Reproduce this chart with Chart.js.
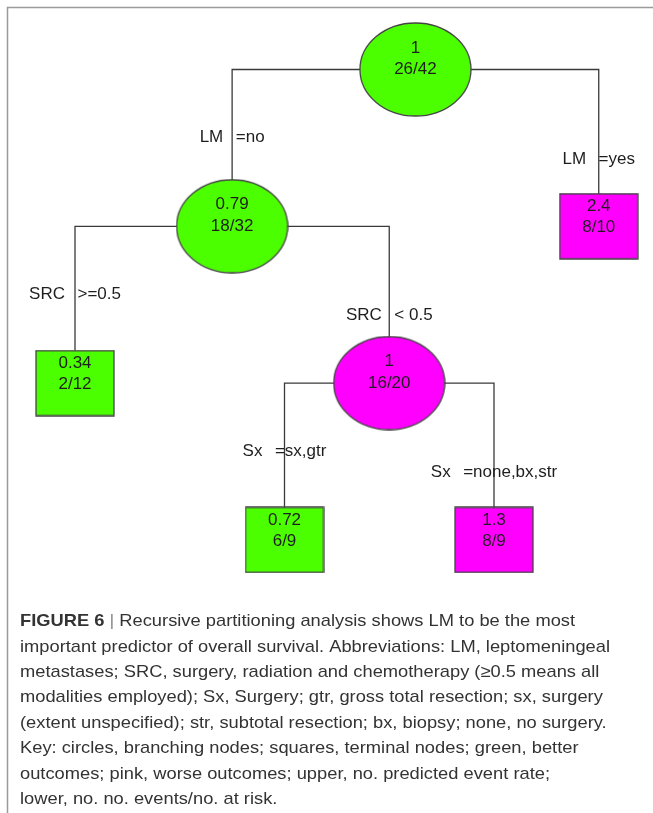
<!DOCTYPE html>
<html><head><meta charset="utf-8">
<script src="https://cdn.jsdelivr.net/npm/chart.js@4.4.1/dist/chart.umd.min.js"></script>
<style>html,body{margin:0;padding:0;background:#fff;overflow:hidden}canvas{display:block}</style>
</head><body>
<canvas id="c" width="653" height="813"></canvas>
<script>
// ---------- data ----------
const nodeRate    = ['1', '0.79', '2.4', '0.34', '1', '0.72', '1.3'];
const nodeEvents  = [26, 18, 8, 2, 16, 6, 8];
const nodeAtRisk  = [42, 32, 10, 12, 20, 9, 9];
const nodeParent  = [null, 0, 0, 1, 1, 4, 4];
const splitVar    = [null, 'LM', 'LM', 'SRC', 'SRC', 'Sx', 'Sx'];
const splitCond   = [null, '=no', '=yes', '>=0.5', '< 0.5', '=sx,gtr', '=none,bx,str'];
const nodeOutcome = ['better', 'better', 'worse', 'better', 'worse', 'better', 'worse'];
const captionTitle = 'FIGURE 6';
const captionLines = [
  'Recursive partitioning analysis shows LM to be the most',
  'important predictor of overall survival. Abbreviations: LM, leptomeningeal',
  'metastases; SRC, surgery, radiation and chemotherapy (\u22650.5 means all',
  'modalities employed); Sx, Surgery; gtr, gross total resection; sx, surgery',
  '(extent unspecified); str, subtotal resection; bx, biopsy; none, no surgery.',
  'Key: circles, branching nodes; squares, terminal nodes; green, better',
  'outcomes; pink, worse outcomes; upper, no. predicted event rate;',
  'lower, no. no. events/no. at risk.'
];

// ---------- layout (not data) ----------
const LAYOUT = {
  leafOrder: [3, 5, 6, 2], leafSlots: [0, 2, 4, 5],
  x0: 75, slotW: 104.75, y0: 69.5, levelH: 156.8,
  ellRx: 55.5, ellRy: 46.5, boxW: 78, boxH: 65
};
const COLORS = { better: '#4cff00', worse: '#ff00ff', edge: '#3a3a3a', text: '#1e1e1e' };
const FONT = '"Liberation Sans", Arial, Helvetica, sans-serif';

const N = nodeRate.length;
const children = Array.from({length: N}, () => []);
nodeParent.forEach((p, i) => { if (p !== null) children[p].push(i); });
const depth = nodeParent.map((p, i) => { let d = 0, q = p; while (q !== null) { d++; q = nodeParent[q]; } return d; });
const nx = new Array(N), ny = new Array(N);
function placeX(i) {
  if (children[i].length === 0) {
    nx[i] = LAYOUT.x0 + LAYOUT.leafSlots[LAYOUT.leafOrder.indexOf(i)] * LAYOUT.slotW;
  } else {
    children[i].forEach(placeX);
    nx[i] = children[i].reduce((s, c) => s + nx[c], 0) / children[i].length;
  }
}
placeX(0);
for (let i = 0; i < N; i++) ny[i] = LAYOUT.y0 + depth[i] * LAYOUT.levelH;

function makeShape(isLeaf, color) {
  const cv = document.createElement('canvas');
  const w = isLeaf ? LAYOUT.boxW + 2 : Math.ceil(LAYOUT.ellRx * 2 + 2);
  const h = isLeaf ? LAYOUT.boxH + 2 : Math.ceil(LAYOUT.ellRy * 2 + 2);
  cv.width = w; cv.height = h;
  const g = cv.getContext('2d');
  g.fillStyle = color; g.strokeStyle = '#444'; g.lineWidth = 1.3;
  g.beginPath();
  if (isLeaf) g.rect(1, 1, LAYOUT.boxW, LAYOUT.boxH);
  else g.ellipse(w / 2, h / 2, LAYOUT.ellRx, LAYOUT.ellRy, 0, 0, Math.PI * 2);
  g.fill(); g.stroke();
  return cv;
}
const shapes = {};
['better', 'worse'].forEach(o => {
  shapes[o + 'leaf'] = makeShape(true, COLORS[o]);
  shapes[o + 'node'] = makeShape(false, COLORS[o]);
});

// edge datasets (one polyline per internal node)
const edgeSets = [];
for (let i = 0; i < N; i++) {
  if (children[i].length === 2) {
    const [l, r] = children[i];
    edgeSets.push({
      type: 'scatter', showLine: true, order: 2,
      data: [{x: nx[l], y: ny[l]}, {x: nx[l], y: ny[i]}, {x: nx[r], y: ny[i]}, {x: nx[r], y: ny[r]}],
      borderColor: COLORS.edge, borderWidth: 1.3, pointRadius: 0, tension: 0
    });
  }
}
const nodeSet = {
  type: 'scatter', order: 0,
  data: nodeRate.map((v, i) => ({x: nx[i], y: ny[i]})),
  pointStyle: nodeRate.map((v, i) => shapes[nodeOutcome[i] + (children[i].length ? 'node' : 'leaf')]),
  pointRadius: 5, pointHoverRadius: 5
};

const textPlugin = {
  id: 'treeText',
  afterDraw(chart) {
    const ctx = chart.ctx, xs = chart.scales.x, ys = chart.scales.y;
    ctx.save();
    ctx.fillStyle = COLORS.text;
    ctx.textBaseline = 'middle';
    // node texts
    ctx.font = '17px ' + FONT;
    ctx.textAlign = 'center';
    for (let i = 0; i < N; i++) {
      const px = xs.getPixelForValue(nx[i]), py = ys.getPixelForValue(ny[i]);
      const leaf = children[i].length === 0;
      ctx.fillText(nodeRate[i], px, py + (leaf ? -20 : -21.5));
      ctx.fillText(nodeEvents[i] + '/' + nodeAtRisk[i], px, py + (leaf ? 1 : 0));
    }
    // split labels
    ctx.textAlign = 'left';
    for (let i = 1; i < N; i++) {
      const p = nodeParent[i];
      const isLeft = children[p][0] === i;
      const midY = (ny[p] + ny[i]) / 2 + (isLeft ? -10.5 : 11);
      const a = ctx.measureText(splitVar[i]).width, b = ctx.measureText(splitCond[i]).width;
      const gap = 12.5, tot = a + gap + b;
      const px = xs.getPixelForValue(nx[i]) - tot / 2, py = ys.getPixelForValue(midY);
      ctx.fillText(splitVar[i], px, py);
      ctx.fillText(splitCond[i], px + a + gap, py);
    }
    // frame
    ctx.strokeStyle = '#9a9a9a'; ctx.lineWidth = 1.5;
    ctx.beginPath(); ctx.moveTo(7.5, 813); ctx.lineTo(7.5, 7.5); ctx.lineTo(653, 7.5); ctx.stroke();
    // caption
    const cx = 20, cy0 = 621.5, lh = 25.4;
    ctx.font = '17px ' + FONT;
    const sx = 590 / ctx.measureText(captionLines[1]).width;
    ctx.fillStyle = '#333333';
    captionLines.forEach((line, k) => {
      ctx.save();
      ctx.translate(cx, cy0 + k * lh);
      ctx.scale(sx, 1);
      let x = 0;
      if (k === 0) {
        ctx.font = 'bold 17px ' + FONT;
        ctx.fillText(captionTitle, 0, 0);
        x += ctx.measureText(captionTitle).width;
        ctx.font = '17px ' + FONT;
        x += ctx.measureText(' ').width;
        ctx.fillStyle = '#8a8a8a';
        ctx.fillText('|', x, 0);
        x += ctx.measureText('| ').width;
        ctx.fillStyle = '#333333';
      }
      ctx.fillText(line, x, 0);
      ctx.restore();
    });
    ctx.restore();
  }
};

new Chart(document.getElementById('c'), {
  type: 'scatter',
  data: { datasets: [nodeSet, ...edgeSets] },
  options: {
    responsive: false, animation: false, devicePixelRatio: 1,
    layout: { padding: 0, autoPadding: false },
    clip: false,
    events: [],
    plugins: { legend: { display: false }, tooltip: { enabled: false } },
    scales: {
      x: { type: 'linear', min: 0, max: 653, display: false },
      y: { type: 'linear', min: 0, max: 813, reverse: true, display: false }
    }
  },
  plugins: [textPlugin]
});
</script>
</body></html>
